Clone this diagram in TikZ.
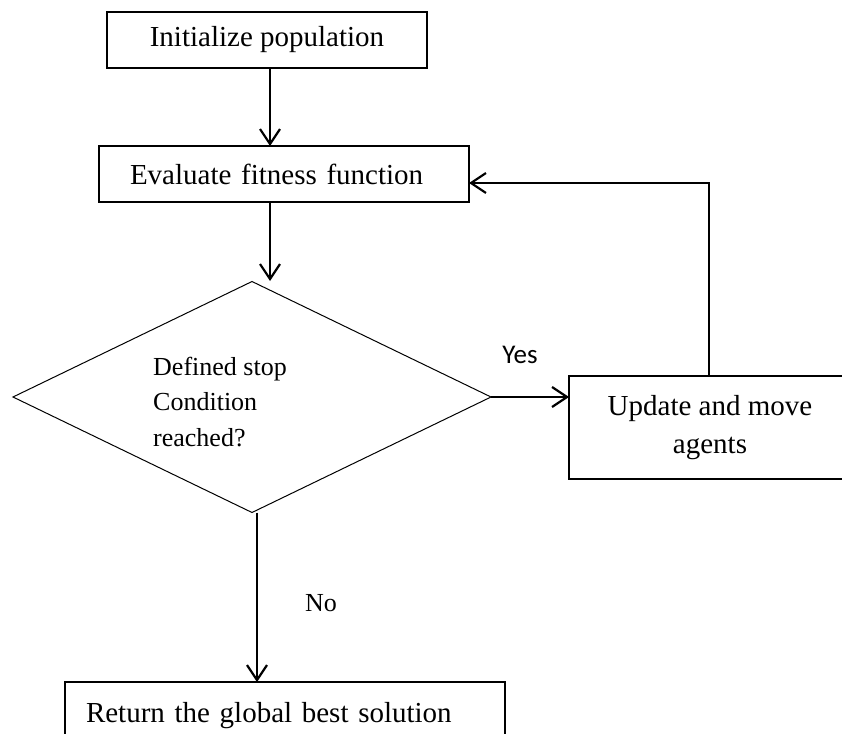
\documentclass[tikz,border=0pt]{standalone}
\usepackage{fontspec}
\setmainfont{Liberation Serif}
\newfontfamily\yesfont{Carlito}
\usetikzlibrary{shapes.geometric,arrows.meta}
\begin{document}
\begin{tikzpicture}[x=1pt,y=-1pt,
  box/.style={draw, line width=1.4pt, inner sep=0pt, outer sep=0pt, font=\fontsize{29}{35}\selectfont},
  flow/.style={line width=2.2pt, -{Straight Barb[length=15pt,width=20pt,line width=2.2pt]}},
  lbl/.style={inner sep=0pt}
]
\useasboundingbox (0,0) rectangle (842,733);
\clip (0,0) rectangle (842,733);

\node[box, minimum width=320pt, minimum height=56pt] (init) at (267,40) {Initialize population};
\node[box, text width=308pt, inner xsep=31pt, align=left, minimum height=56pt] (eval) at (284,174) {Evaluate fitness function};
\node[draw, diamond, line width=1pt, minimum width=478pt, minimum height=231pt, inner sep=0pt, outer sep=0pt] (cond) at (252,397) {};
\node[lbl, anchor=west, align=left, font=\fontsize{26}{35.5}\selectfont] (condtext) at (153,402) {Defined stop\\Condition\\reached?};
\node[box, minimum width=282pt, minimum height=103pt, align=center, font=\fontsize{29}{38}\selectfont] (upd) at (710,427.5) {Update and move\\agents};
\node[box, anchor=north west, text width=398pt, inner xsep=21pt, inner ysep=20pt, text height=20pt, text depth=60pt, align=left] (ret) at (65,682) {Return the global best solution};

\node[lbl, font=\yesfont\fontsize{27}{30}\selectfont] (yes) at (520,355) {Yes};
\node[lbl, font=\fontsize{26}{30}\selectfont] (no) at (321,603) {No};

\coordinate (condtop) at (270,281);
\coordinate (fb) at (709,183);

\draw[flow] ([xshift=3pt]init.south) -- ([xshift=3pt]init.south |- eval.north);
\draw[flow] (eval.south -| condtop) -- (condtop);
\draw[flow] (cond.east) -- (cond.east -| upd.west);
\draw[flow] (upd.north -| fb) -- (fb) -- (fb -| eval.east);
\draw[flow] ([xshift=5pt]cond.south) -- ([xshift=5pt]cond.south |- ret.north);
\end{tikzpicture}
\end{document}
